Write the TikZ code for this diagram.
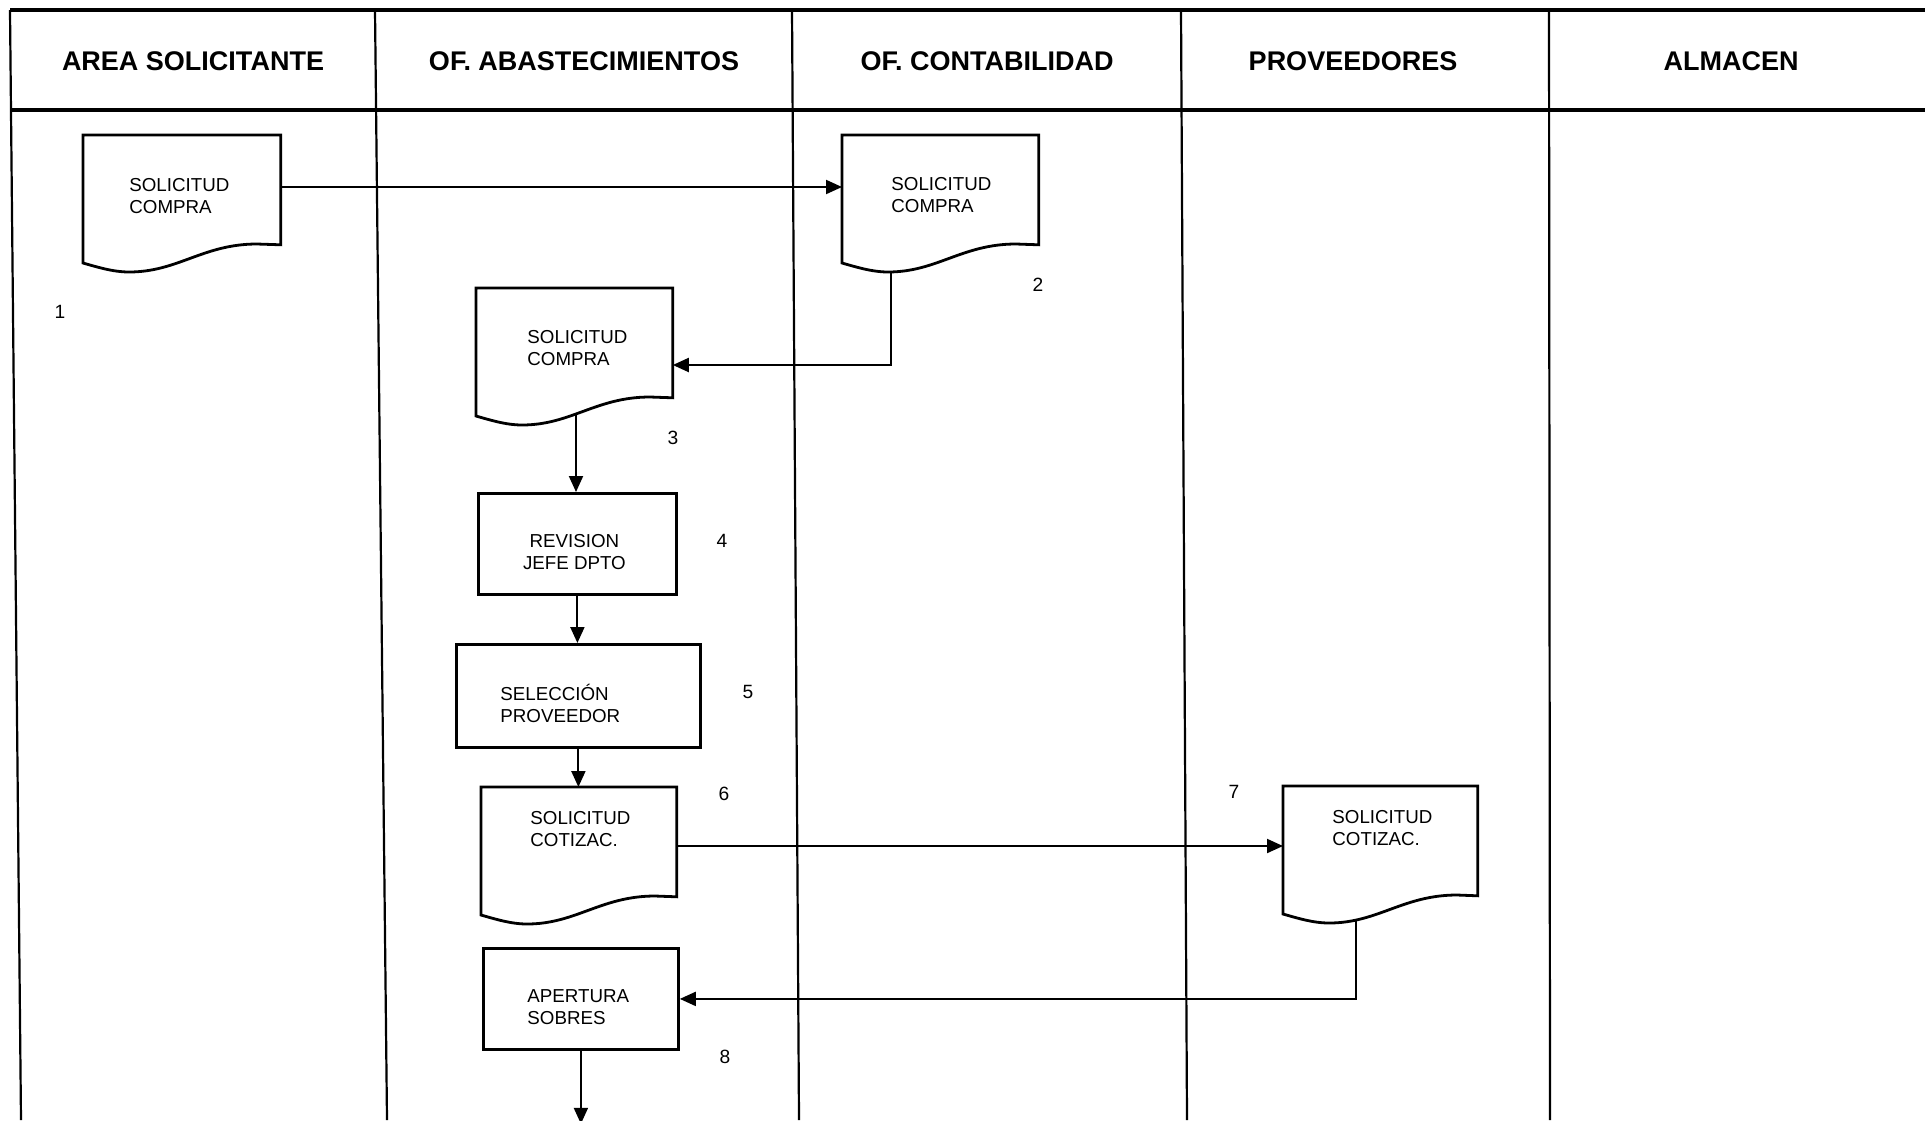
\documentclass[tikz,border=0pt]{standalone}
\usepackage{fontspec}
\setmainfont{Liberation Sans}
\usetikzlibrary{calc,arrows.meta}

% two-line labels whose reference point is the baseline of the first line
\newcommand\twoleft[2]{\begin{tabular}[t]{@{}l@{}}#1\\#2\end{tabular}}
\newcommand\twocenter[2]{\begin{tabular}[t]{@{}c@{}}#1\\#2\end{tabular}}

% document symbol: flat top and sides, wavy bottom edge
\newcommand\docoutline[1]{%
  \draw[boxline] (#1.north west) -- (#1.north east) -- (#1.south east)
    -- ($(#1.north west)+(174,109)$)
    .. controls ($(#1.north west)+(120,109)$) and ($(#1.north west)+(95,137)$) .. ($(#1.north west)+(46,137)$)
    .. controls ($(#1.north west)+(30,137)$) and ($(#1.north west)+(14,132)$) .. ($(#1.north west)+(0,128)$)
    -- cycle;}

\begin{document}
\begin{tikzpicture}[x=0.5pt,y=-0.5pt,
  lane/.style={line width=1.1pt},
  headrule/.style={line width=1.8pt},
  head/.style={font=\fontsize{13.5}{16}\selectfont\bfseries, inner sep=0, anchor=base},
  boxline/.style={line width=1.4pt},
  docnode/.style={anchor=north west, inner sep=0, minimum height=54.5pt},
  procbox/.style={draw, line width=1.4pt, anchor=north west, inner sep=0},
  lbl/.style={font=\fontsize{9.375}{11.35}\selectfont, inner sep=0, anchor=base west},
  lblc/.style={font=\fontsize{9.375}{11.35}\selectfont, inner sep=0, anchor=base},
  num/.style={font=\fontsize{9.6}{11.35}\selectfont, inner sep=0},
  arr/.style={line width=1pt, -{Triangle[length=8pt,width=7pt]}}]

\useasboundingbox (0,0) rectangle (1925,1120);
\fill[white] (0,0) rectangle (1925,1120);

% swimlane grid
\draw[headrule] (10,10) -- (1925,10);
\draw[headrule] (10,110) -- (1925,110);
\draw[lane] (10,10) -- (21,1120);
\draw[lane] (375,10) -- (387,1120);
\draw[lane] (792,10) -- (799,1120);
\draw[lane] (1181,10) -- (1187,1120);
\draw[lane] (1549,10) -- (1550,1120);

% lane titles
\node[head] (h1) at (193,70) {AREA SOLICITANTE};
\node[head] (h2) at (584,70) {OF. ABASTECIMIENTOS};
\node[head] (h3) at (987,70) {OF. CONTABILIDAD};
\node[head] (h4) at (1353,70) {PROVEEDORES};
\node[head] (h5) at (1731,70) {ALMACEN};

% documents
\node[docnode, minimum width=98.5pt] (d1) at (83,135) {};
\node[docnode, minimum width=98pt] (d2) at (842,135) {};
\node[docnode, minimum width=98pt] (d3) at (476,288) {};
\node[docnode, minimum width=97.5pt] (d6) at (481,787) {};
\node[docnode, minimum width=97pt] (d7) at (1283,786) {};
\docoutline{d1}
\docoutline{d2}
\docoutline{d3}
\docoutline{d6}
\docoutline{d7}

% process boxes
\node[procbox, minimum width=99pt, minimum height=50.5pt] (r4) at (477,492) {};
\node[procbox, minimum width=122pt, minimum height=51.5pt] (r5) at (455,643) {};
\node[procbox, minimum width=97.5pt, minimum height=50.5pt] (r8) at (482,947) {};

% box texts
\node[lbl] (d1t) at ($(d1.north west)+(46,56)$) {\twoleft{SOLICITUD}{COMPRA}};
\node[lbl] (d2t) at ($(d2.north west)+(49,55)$) {\twoleft{SOLICITUD}{COMPRA}};
\node[lbl] (d3t) at ($(d3.north west)+(51,55)$) {\twoleft{SOLICITUD}{COMPRA}};
\node[lblc] (r4t) at ($(r4.north)+(-3,55)$) {\twocenter{REVISION}{JEFE DPTO}};
\node[lbl] (r5t) at ($(r5.north west)+(45,57)$) {\twoleft{SELECCIÓN}{PROVEEDOR}};
\node[lbl] (d6t) at ($(d6.north west)+(49,37)$) {\twoleft{SOLICITUD}{COTIZAC.}};
\node[lbl] (d7t) at ($(d7.north west)+(49,37)$) {\twoleft{SOLICITUD}{COTIZAC.}};
\node[lbl] (r8t) at ($(r8.north west)+(45,55)$) {\twoleft{APERTURA}{SOBRES}};

% step numbers
\node[num] (n1) at (60,312) {1};
\node[num] (n2) at (1038,285) {2};
\node[num] (n3) at (673,438) {3};
\node[num] (n4) at (722,541) {4};
\node[num] (n5) at (748,692) {5};
\node[num] (n6) at (724,794) {6};
\node[num] (n7) at (1234,792) {7};
\node[num] (n8) at (725,1057) {8};

% flow
\coordinate (d1o) at ($(d1.north east)+(0,52)$);
\draw[arr] (d1o) -- (d1o -| d2.west);
\coordinate (d2o) at ($(d2.north west)+(49,137)$);
\coordinate (d3i) at ($(d3.north east)+(0,77)$);
\draw[arr] (d2o) |- (d3i);
\coordinate (d3o) at ($(d3.north west)+(100,126)$);
\draw[arr] (d3o) -- (d3o |- r4.north);
\draw[arr] (r4.south) -- (r4.south |- r5.north);
\draw[arr] (r5.south) -- (r5.south |- d6.north);
\coordinate (d6o) at ($(d6.north east)+(0,59)$);
\draw[arr] (d6o) -- (d6o -| d7.west);
\coordinate (d7o) at ($(d7.north west)+(73,135)$);
\draw[arr] (d7o) |- (r8.east);
\coordinate (down) at ($(r8.south)+(0,73)$);
\draw[arr] (r8.south) -- (down);

\end{tikzpicture}
\end{document}
